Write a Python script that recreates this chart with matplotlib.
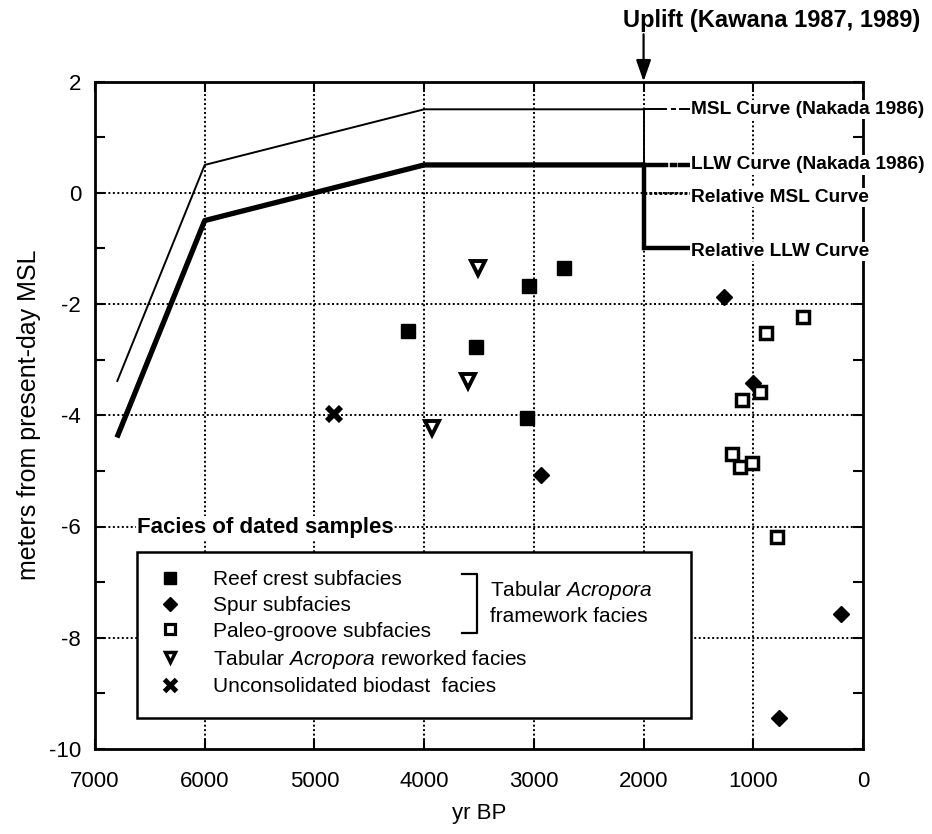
import matplotlib
matplotlib.use("Agg")
import matplotlib.pyplot as plt
from matplotlib.patches import Rectangle
from matplotlib.lines import Line2D
import numpy as np

plt.rcParams['font.family'] = ['Liberation Sans', 'DejaVu Sans']
plt.rcParams['mathtext.fontset'] = 'custom'
plt.rcParams['mathtext.it'] = 'Liberation Sans:italic'
plt.rcParams['mathtext.rm'] = 'Liberation Sans'
plt.rcParams['axes.unicode_minus'] = False

# ---------------- data ----------------
reef_x = [4150, 3530, 3045, 2725, 3060]
reef_y = [-2.48, -2.77, -1.68, -1.35, -4.05]

spur_x = [1265, 1000, 200, 765, 2935]
spur_y = [-1.87, -3.42, -7.58, -9.44, -5.07]

groove_x = [545, 885, 940, 1105, 1195, 1120, 1010, 785]
groove_y = [-2.23, -2.52, -3.58, -3.73, -4.70, -4.93, -4.86, -6.18]

reworked_x = [3510, 3600, 3930]
reworked_y = [-1.35, -3.38, -4.23]

biodast_x = [4820]
biodast_y = [-3.98]

msl_x = [6800, 6000, 4000, 2000]
msl_y = [-3.4, 0.5, 1.5, 1.5]
llw_x = [6800, 6000, 4000, 2000]
llw_y = [-4.4, -0.5, 0.5, 0.5]

uplift_year = 2000
rel_msl_after = 0.0
rel_llw_after = -1.0

xticks = [7000, 6000, 5000, 4000, 3000, 2000, 1000, 0]
yticks = [2, 0, -2, -4, -6, -8, -10]

legend_labels = ['Reef crest subfacies', 'Spur subfacies', 'Paleo-groove subfacies',
                 'Tabular $\\it{Acropora}$ reworked facies', 'Unconsolidated biodast  facies']

# ---------------- figure ----------------
W, H = 932, 834
fig = plt.figure(figsize=(W / 100, H / 100), dpi=100)
ax = fig.add_axes([95 / W, 1 - 749 / H, 768 / W, (749 - 81.5) / H])
ax.set_xlim(7000, 0)
ax.set_ylim(-10, 2)

# grid
grid_kw = dict(color='black', lw=1.4, ls=(0, (1, 1.3)), zorder=0.5)
for xv in xticks[1:-1]:
    ax.axvline(xv, **grid_kw)
for yv in yticks[1:-1]:
    ax.axhline(yv, **grid_kw)

# curves
ax.plot(msl_x, msl_y, color='black', lw=1.4, zorder=2, solid_capstyle='butt')
ax.plot(llw_x, llw_y, color='black', lw=3.8, zorder=2, solid_capstyle='butt')

# relative curves (after uplift)
lab_x = 1570
ax.plot([uplift_year, uplift_year], [msl_y[-1], rel_msl_after], color='black', lw=1.4, zorder=2)
ax.plot([uplift_year, lab_x], [rel_msl_after, rel_msl_after], color='black', lw=2.0,
        ls=(0, (1, 0.8)), zorder=2, clip_on=False)
ax.plot([uplift_year, uplift_year, lab_x], [llw_y[-1], rel_llw_after, rel_llw_after],
        color='black', lw=3.2, zorder=2, clip_on=False, solid_joinstyle='miter')

# extensions of Nakada curves to their labels
ax.plot([uplift_year, 1800], [msl_y[-1]] * 2, color='black', lw=1.4, zorder=2)
ax.plot([1745, 1710], [msl_y[-1]] * 2, color='black', lw=1.4, zorder=2)
ax.plot([1670, lab_x], [msl_y[-1]] * 2, color='black', lw=1.4, zorder=2)
ax.plot([uplift_year, 1800], [llw_y[-1]] * 2, color='black', lw=3.2, zorder=2)
ax.plot([1745, 1710], [llw_y[-1]] * 2, color='black', lw=3.2, zorder=2)
ax.plot([1670, lab_x], [llw_y[-1]] * 2, color='black', lw=3.2, zorder=2)

lbl_kw = dict(fontsize=13.8, fontweight='bold', va='center', ha='left', clip_on=False,
              zorder=6, bbox=dict(facecolor='white', edgecolor='none', pad=0.8))
ax.text(lab_x, msl_y[-1], 'MSL Curve (Nakada 1986)', **lbl_kw)
ax.text(lab_x, llw_y[-1], 'LLW Curve (Nakada 1986)', **lbl_kw)
ax.text(lab_x, rel_msl_after - 0.08, 'Relative MSL Curve', **lbl_kw)
ax.text(lab_x, rel_llw_after - 0.05, 'Relative LLW Curve', **lbl_kw)

# uplift arrow
ax.annotate('', xy=(uplift_year, 2.0), xytext=(uplift_year, 2.85),
            arrowprops=dict(arrowstyle='-|>,head_length=1.3,head_width=0.45',
                            color='black', lw=1.6, shrinkA=0, shrinkB=0),
            annotation_clip=False)
ax.text(830, 3.1, 'Uplift (Kawana 1987, 1989)', fontsize=17, fontweight='bold',
        ha='center', va='center', clip_on=False)

# data markers
sty_reef = dict(marker='s', mfc='black', mec='black')
sty_spur = dict(marker='D', mfc='black', mec='black')
sty_groove = dict(marker='s', mfc='white', mec='black')
sty_rew = dict(marker='v', mfc='white', mec='black')
sty_bio = dict(marker='x', mec='black')

ax.plot(reef_x, reef_y, ls='none', ms=9.8, zorder=4, **sty_reef)
ax.plot(spur_x, spur_y, ls='none', ms=8.6, zorder=4, **sty_spur)
ax.plot(groove_x, groove_y, ls='none', ms=8.6, mew=2.5, zorder=4, **sty_groove)
ax.plot(reworked_x, reworked_y, ls='none', ms=9.5, mew=2.8, zorder=4, **sty_rew)
ax.plot(biodast_x, biodast_y, ls='none', ms=9.8, mew=4.2, zorder=4, **sty_bio)

# legend box
x_px = lambda p: (863 - p) / 768 * 7000
y_px = lambda p: 2 - (p - 81.5) / (749 - 81.5) * 12
box = Rectangle((x_px(691), y_px(718)), x_px(137) - x_px(691), y_px(552) - y_px(718),
                facecolor='white', edgecolor='black', lw=1.8, zorder=3)
ax.add_patch(box)
ax.text(x_px(137), -6.02, 'Facies of dated samples', fontsize=16, fontweight='bold',
        ha='left', va='center', zorder=6,
        bbox=dict(facecolor='white', edgecolor='none', pad=0.5))

handles = [
    Line2D([], [], ls='none', ms=8.5, **sty_reef),
    Line2D([], [], ls='none', ms=7.4, **sty_spur),
    Line2D([], [], ls='none', ms=7.4, mew=2.3, **sty_groove),
    Line2D([], [], ls='none', ms=7.4, mew=2.5, **sty_rew),
    Line2D([], [], ls='none', ms=8.4, mew=3.6, **sty_bio),
]
leg = ax.legend(handles=handles, labels=legend_labels, loc='upper left',
                bbox_to_anchor=(157 / W, 1 - 570 / H), bbox_transform=fig.transFigure,
                frameon=False, fontsize=15, labelspacing=0.33,
                handlelength=1.2, handletextpad=1.5, borderpad=0, borderaxespad=0)
leg.set_zorder(7)

# bracket
bx0, bx1 = x_px(462), x_px(477)
by0, by1 = y_px(574), y_px(633)
ax.plot([bx0, bx1, bx1, bx0], [by0, by0, by1, by1], color='black', lw=1.6, zorder=5)
ax.text(x_px(490), y_px(590), 'Tabular $\\it{Acropora}$', fontsize=15, ha='left',
        va='center', zorder=6)
ax.text(x_px(490), y_px(617), 'framework facies', fontsize=15, ha='left',
        va='center', zorder=6)

# ticks & spines
ax.set_xticks(xticks)
ax.set_yticks(yticks)
ax.set_yticks([1, -1, -3, -5, -7, -9], minor=True)
ax.tick_params(which='both', direction='in', length=7, width=1.5, top=True, right=True,
               labelsize=16)
ax.tick_params(axis='x', pad=16)
ax.tick_params(axis='y', pad=10)
for s in ax.spines.values():
    s.set_linewidth(2.0)

ax.set_xlabel('yr BP', fontsize=16, labelpad=8)
ax.set_ylabel('meters from present-day MSL', fontsize=18)
ax.yaxis.set_label_coords(-0.07, 0.5)

fig.savefig('out.png', dpi=100)
